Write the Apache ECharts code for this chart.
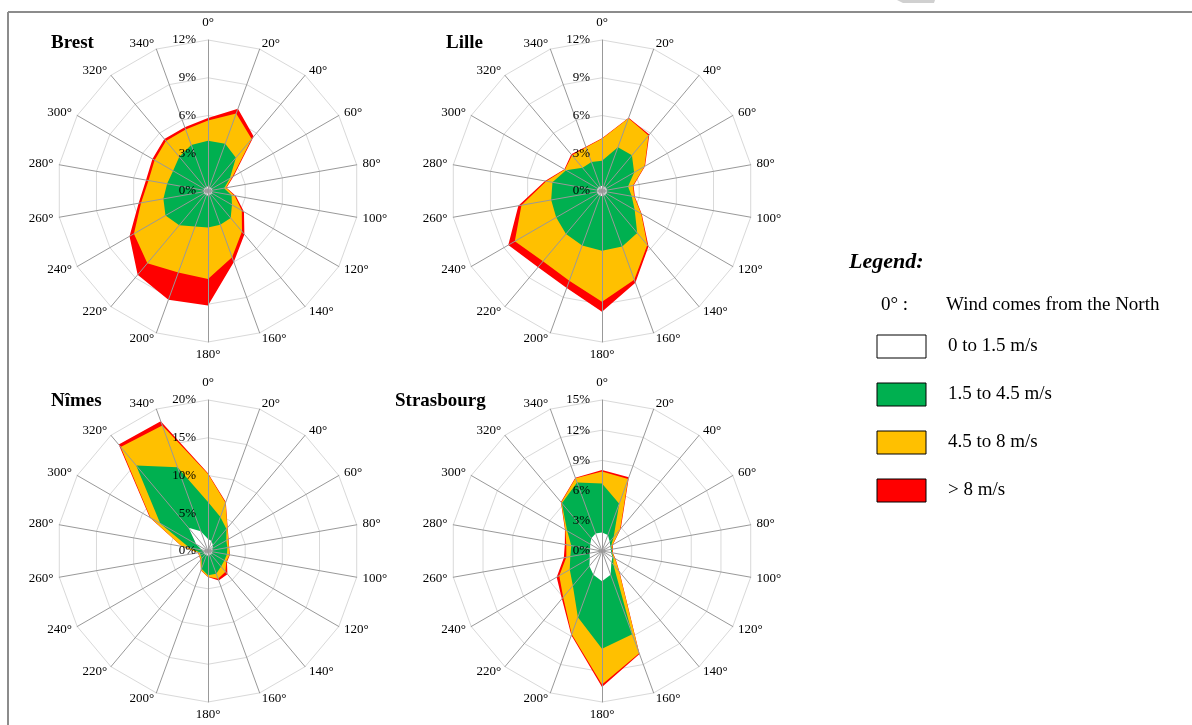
<!DOCTYPE html>
<html><head><meta charset="utf-8">
<script src="https://cdn.jsdelivr.net/npm/echarts@6/dist/echarts.min.js"></script>
<style>html,body{margin:0;padding:0;background:#fff}#chart{width:1192px;height:725px}</style>
</head><body><div id="chart"></div>
<script>
// ---- data (frequency in % per wind speed class, for each direction) ----
const directions = ['0°','20°','40°','60°','80°','100°','120°','140°','160°','180°','200°','220°','240°','260°','280°','300°','320°','340°'];
const speedClasses = ['0 to 1.5 m/s','1.5 to 4.5 m/s','4.5 to 8 m/s','> 8 m/s'];
const classColors = ['#FFFFFF','#00B050','#FFC000','#FF0000'];

const brestCalm     = [0.35,0.35,0.35,0.35,0.35,0.35,0.35,0.35,0.35,0.35,0.35,0.35,0.35,0.35,0.35,0.35,0.35,0.35];
const brestLight    = [3.65,3.65,3.1,1.65,0.95,1.55,1.85,2.45,2.5,2.55,2.65,3.2,3.55,3.25,2.95,2.85,3.2,3.55];
const brestModerate = [1.6,2.55,1.95,0.25,0.15,0.25,0.9,1.4,2.75,4.1,3.9,3.95,2.9,1.8,1.5,1.7,1.65,1.3];
const brestStrong   = [0.2,0.4,0.25,0.1,0.05,0.1,0.2,0.3,0.4,2.1,2.3,1.2,0.4,0.2,0.2,0.2,0.2,0.2];

const lilleCalm     = [0.4,0.4,0.4,0.4,0.4,0.4,0.4,0.4,0.4,0.4,0.4,0.4,0.4,0.4,0.4,0.4,0.4,0.4];
const lilleLight    = [2.0,3.3,3.3,2.55,1.7,2.0,2.6,3.95,4.3,4.35,4.2,4.05,3.8,3.7,3.6,2.9,2.0,2.05];
const lilleModerate = [1.75,2.45,2.05,0.95,0.4,0.2,0.6,1.25,2.8,4.05,3.0,2.85,3.8,2.4,0.5,0.1,1.3,1.25];
const lilleStrong   = [0.05,0.05,0.1,0.05,0.05,0.05,0.05,0.15,0.25,0.8,0.6,0.6,0.6,0.25,0.1,0.05,0.1,0.05];

const nimesCalm     = [1.6,1.4,1.0,0.7,0.6,0.6,0.6,0.6,0.6,0.6,0.6,0.6,0.6,0.6,0.8,1.8,4.0,2.8];
const nimesLight    = [4.9,3.4,2.8,2.1,2.0,1.95,1.9,2.1,2.6,2.6,1.9,0.7,0.5,0.5,1.7,5.5,10.8,9.0];
const nimesModerate = [3.7,2.0,0.2,0.3,0.2,0.35,0.3,0.9,0.7,0.2,0.2,0.2,0.2,0.2,1.0,1.5,3.2,5.9];
const nimesStrong   = [0.1,0.1,0.05,0.05,0.05,0.05,0.1,0.4,0.25,0.05,0.05,0.05,0.05,0.05,0.05,0.1,0.4,0.6];

const strasCalm     = [1.85,1.7,1.2,0.95,0.9,0.9,1.2,1.45,2.5,3.0,2.5,1.95,1.4,1.25,1.2,1.35,1.65,1.85];
const strasLight    = [4.85,3.3,0.6,0.1,0.1,0.1,0.1,0.3,6.3,6.7,4.5,2.55,2.3,1.95,1.9,2.65,4.55,5.4];
const strasModerate = [1.2,2.6,1.0,0.15,0.05,0.05,0.2,0.9,2.0,3.55,1.8,1.5,1.2,0.4,0.5,0.2,0.1,0.45];
const strasStrong   = [0.15,0.2,0.1,0.05,0.05,0.05,0.05,0.05,0.1,0.25,0.1,0.2,0.3,0.25,0.15,0.05,0.05,0.05];

const stationNames = ['Brest','Lille','Nîmes','Strasbourg'];
const stationMax   = [12, 12, 20, 15];
const stationSplit = [4, 4, 4, 5];

// ---- layout ----
const FONT = '"Liberation Serif","Times New Roman",serif';
const stations = [
  {bands:[brestCalm,brestLight,brestModerate,brestStrong], center:[208,191], title:[51,34]},
  {bands:[lilleCalm,lilleLight,lilleModerate,lilleStrong], center:[602,191], title:[446,34]},
  {bands:[nimesCalm,nimesLight,nimesModerate,nimesStrong], center:[208,551], title:[51,392]},
  {bands:[strasCalm,strasLight,strasModerate,strasStrong], center:[602,551], title:[395,392]}
];
// radar indicators run counter-clockwise; reorder so that directions go clockwise
const order = [0].concat(directions.map((d, i) => i).slice(1).reverse());

const radar = [], series = [], title = [];
stations.forEach((st, s) => {
  const max = stationMax[s], split = stationSplit[s];
  radar.push({
    center: st.center, radius: 151, startAngle: 90, shape: 'polygon', splitNumber: split, z: 0,
    indicator: order.map(i => ({name: directions[i], min: 0, max: max})),
    axisName: {show: false},
    splitLine: {lineStyle: {color: '#d9d9d9', width: 1}},
    splitArea: {show: false}, axisLine: {show: false}, axisTick: {show: false}, axisLabel: {show: false}
  });
  radar.push({
    center: st.center, radius: 151, startAngle: 90, shape: 'polygon', splitNumber: split, z: 3,
    indicator: order.map((i, j) => {
      const o = {name: directions[i], min: 0, max: max};
      if (j === 0) {
        o.nameGap = 11;
        o.axisLabel = {show: true, formatter: '{value}%', color: '#000', fontSize: 13, fontFamily: FONT, margin: 12};
      }
      return o;
    }),
    nameGap: 6,
    axisName: {show: true, color: '#000', fontSize: 13, fontFamily: FONT},
    splitLine: {show: false}, splitArea: {show: false}, axisTick: {show: false},
    axisLine: {show: true, lineStyle: {color: '#999999', width: 1}},
    axisLabel: {show: false}
  });
  // cumulative values
  const cum = [];
  let run = directions.map(() => 0);
  st.bands.forEach(b => { run = run.map((v, i) => v + b[i]); cum.push(run.slice()); });
  for (let k = 3; k >= 0; k--) {
    series.push({
      type: 'radar', radarIndex: 2 * s, silent: true, symbol: 'none', z: 2,
      lineStyle: {width: 0, opacity: 0},
      areaStyle: {color: classColors[k], opacity: 1},
      itemStyle: {color: classColors[k]},
      data: [{name: speedClasses[k], value: order.map(i => +cum[k][i].toFixed(3))}]
    });
  }
  title.push({text: stationNames[s], left: st.title[0], top: st.title[1], padding: 0,
    textStyle: {fontFamily: FONT, fontSize: 19, fontWeight: 'bold', color: '#000'}});
});

// ---- frame and legend (drawn as graphic) ----
const graphic = [
  {type: 'polygon', shape: {points: [[897,0],[935,0],[934,3],[903,3]]}, style: {fill: '#d0d0d0'}, silent: true},
  {type: 'line', shape: {x1: 8, y1: 12, x2: 1192, y2: 12}, style: {stroke: '#8c8c8c', lineWidth: 2}, silent: true},
  {type: 'line', shape: {x1: 8, y1: 12, x2: 8, y2: 725}, style: {stroke: '#8c8c8c', lineWidth: 2}, silent: true},
  {type: 'text', x: 849, y: 262, style: {text: 'Legend:', font: 'italic bold 22px ' + FONT, fill: '#000', verticalAlign: 'middle'}},
  {type: 'text', x: 881, y: 305, style: {text: '0° :', font: '19px ' + FONT, fill: '#000', verticalAlign: 'middle'}},
  {type: 'text', x: 946, y: 305, style: {text: 'Wind comes from the North', font: '19px ' + FONT, fill: '#000', verticalAlign: 'middle'}}
];
speedClasses.forEach((c, k) => {
  graphic.push({type: 'rect', shape: {x: 877, y: 335 + 48 * k, width: 49, height: 23},
    style: {fill: classColors[k], stroke: '#000', lineWidth: 1}});
  graphic.push({type: 'text', x: 948, y: 346.5 + 48 * k,
    style: {text: c, font: '19px ' + FONT, fill: '#000', verticalAlign: 'middle'}});
});

const chart = echarts.init(document.getElementById('chart'));
chart.setOption({
  animation: false, backgroundColor: '#fff',
  title: title, radar: radar, series: series, graphic: graphic
});
</script></body></html>
